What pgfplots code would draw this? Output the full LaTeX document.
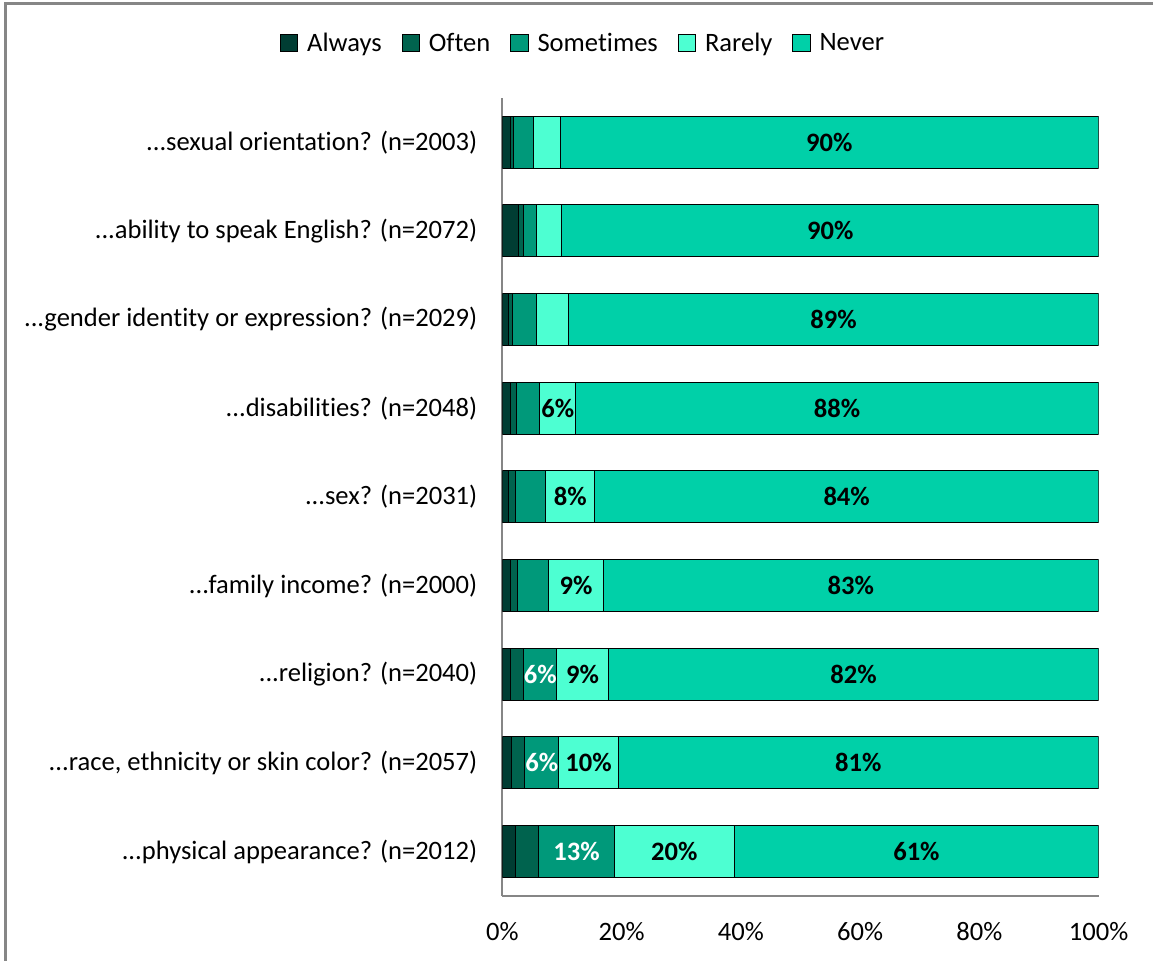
\documentclass[border=0pt]{standalone}
\usepackage{pgfplots}
\usepackage{pgfplotstable}
\pgfplotsset{compat=1.18}
\usepackage{fontspec}
\setmainfont{Carlito}[Ligatures={NoCommon}]
\definecolor{cAlways}{RGB}{0,61,51}
\definecolor{cOften}{RGB}{0,99,78}
\definecolor{cSome}{RGB}{0,153,122}
\definecolor{cRare}{RGB}{77,255,210}
\definecolor{cNever}{RGB}{0,208,168}
\definecolor{axgray}{RGB}{134,134,134}
\pgfplotstableread[col sep=comma]{
y,always,often,sometimes,rarely,never
0,2.2,3.9,12.7,20.1,61.1
1,1.5,2.2,5.8,9.9,80.6
2,1.3,2.3,5.5,8.7,82.2
3,1.3,1.2,5.3,9.1,83.1
4,1.0,1.2,5.1,8.2,84.5
5,1.3,1.0,4.0,6.0,87.7
6,1.1,0.6,4.1,5.3,88.9
7,2.7,0.9,2.2,4.2,90.0
8,1.3,0.6,3.3,4.5,90.3
}\datatable
% label centres (white labels: Sometimes segments)
\pgfplotstableread[col sep=comma]{
x,y,lab
12.45,0,13\%
6.6,1,6\%
6.35,2,6\%
}\whitelabels
% black labels: Rarely and Never segments
\pgfplotstableread[col sep=comma]{
x,y,lab
28.85,0,20\%
69.45,0,61\%
14.45,1,10\%
59.7,1,81\%
13.45,2,9\%
58.9,2,82\%
12.35,3,9\%
58.45,3,83\%
11.4,4,8\%
57.75,4,84\%
9.3,5,6\%
56.15,5,88\%
55.55,6,89\%
55.0,7,90\%
54.85,8,90\%
}\blacklabels
\newcommand{\ff}{\fontsize{13.3}{16}\selectfont}
\newcommand{\dd}{...}
\begin{document}
\begin{tikzpicture}
\begin{axis}[
  scale only axis,
  width=298.5pt, height=399.5pt,
  xbar stacked,
  bar width=26pt,
  xmin=0, xmax=100,
  ymin=-0.5, ymax=8.5,
  axis x line*=bottom, axis y line*=left,
  axis line style={axgray, line width=1pt},
  xtick={0,20,40,60,80,100},
  xticklabels={0\%,20\%,40\%,60\%,80\%,100\%},
  ytick={0,1,2,3,4,5,6,7,8},
  yticklabels={{\dd physical appearance? (n=2012)},{\dd race, ethnicity or skin color? (n=2057)},{\dd religion? (n=2040)},{\dd family income? (n=2000)},{\dd sex? (n=2031)},{\dd disabilities? (n=2048)},{\dd gender identity or expression? (n=2029)},{\dd ability to speak English? (n=2072)},{\dd sexual orientation? (n=2003)}},
  major tick length=0pt,
  tick style={draw=none},
  tick label style={font=\ff},
  yticklabel style={xshift=-9pt},
  xticklabel style={yshift=-10pt},
  legend columns=-1,
  legend style={at={(0.137,1.068)}, anchor=center, draw=none, font=\ff,
    /tikz/every odd column/.append style={column sep=2.5pt},
    /tikz/every even column/.append style={column sep=8pt}},
  legend image code/.code={\draw[#1,draw=black,line width=0.5pt] (0pt,-4.2pt) rectangle (8.6pt,4.4pt);},
  every axis plot/.append style={draw=black, line width=0.5pt},
]
\addplot[fill=cAlways] table[x=always,y=y]{\datatable};
\addplot[fill=cOften] table[x=often,y=y]{\datatable};
\addplot[fill=cSome] table[x=sometimes,y=y]{\datatable};
\addplot[fill=cRare] table[x=rarely,y=y]{\datatable};
\addplot[fill=cNever] table[x=never,y=y]{\datatable};
\legend{Always,Often,Sometimes,Rarely,Never}
\end{axis}
\begin{axis}[
  scale only axis,
  width=298.5pt, height=399.5pt,
  xmin=0, xmax=100,
  ymin=-0.5, ymax=8.5,
  hide axis,
]
\addplot[draw=none, mark=none, nodes near coords, point meta=explicit symbolic,
  nodes near coords style={font=\ff\bfseries, text=white, anchor=center}]
  table[x=x,y=y,meta=lab]{\whitelabels};
\addplot[draw=none, mark=none, nodes near coords, point meta=explicit symbolic,
  nodes near coords style={font=\ff\bfseries, text=black, anchor=center}]
  table[x=x,y=y,meta=lab]{\blacklabels};
\end{axis}
\path ([xshift=-251.5pt,yshift=-32.5pt]current axis.south west) rectangle ([xshift=27pt,yshift=49pt]current axis.north east);
\draw[axgray, line width=1.5pt] ([xshift=-248.5pt,yshift=-32.5pt]current axis.south west) -- ([xshift=-248.5pt,yshift=47pt]current axis.north west) -- ([xshift=27pt,yshift=47pt]current axis.north east);
\end{tikzpicture}
\end{document}
